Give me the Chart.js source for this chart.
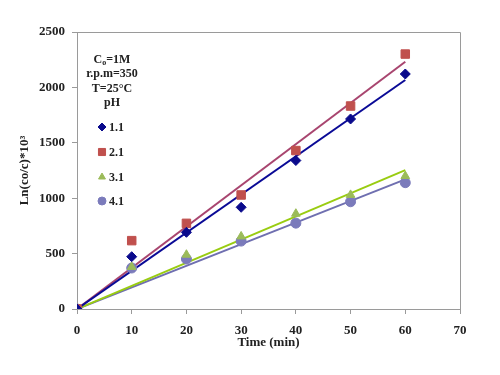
<!DOCTYPE html>
<html lang="en">
<head>
  <meta charset="UTF-8" />
  <title>Ln(co/c) vs time</title>
  <script src="https://cdn.jsdelivr.net/npm/chart.js"></script>
  <style>
    body { margin: 0; background: #ffffff; }
    .wrap { width: 500px; height: 375px; }
  </style>
</head>
<body>
  <div class="wrap"><canvas id="kinChart" width="500" height="375"></canvas></div>

  <script>
    // --- data ---
    const times = [0, 10, 20, 30, 40, 50, 60];
    const ph11 = [0, 472, 692, 918, 1340, 1715, 2121];
    const ph21 = [0, 617, 773, 1029, 1430, 1832, 2301];
    const ph31 = [0, 380, 490, 655, 860, 1030, 1200];
    const ph41 = [0, 370, 451, 613, 775, 968, 1140];

    // trend lines (through origin), start and end values
    const fitTimes = [0, 60];
    const fit11 = [0, 2067];
    const fit21 = [0, 2232];
    const fit31 = [0, 1254];
    const fit41 = [0, 1170];

    const phLabels = ["1.1", "2.1", "3.1", "4.1"];
    const infoLines = ["r.p.m=350", "T=25\u00b0C", "pH"];

    const serif = "'Liberation Serif', 'Times New Roman', serif";

    function pts(xs, ys) {
      return xs.map((x, i) => ({ x: x, y: ys[i] }));
    }

    const series = [
      { label: phLabels[0], data: ph11, fit: fit11, color: "#0a0a8c", line: "#0a0a96", style: "rectRot", r: 5 },
      { label: phLabels[1], data: ph21, fit: fit21, color: "#c0504d", line: "#a8456f", style: "rect", r: 6 },
      { label: phLabels[2], data: ph31, fit: fit31, color: "#9bbb59", line: "#99cc11", style: "triangle", r: 5 },
      { label: phLabels[3], data: ph41, fit: fit41, color: "#7b7bbb", line: "#6f6fb0", style: "circle", r: 5 }
    ];

    const datasets = [];
    series.forEach(s => {
      datasets.push({
        label: s.label + " fit",
        data: pts(fitTimes, s.fit),
        showLine: true,
        borderColor: s.line,
        borderWidth: 2,
        pointRadius: 0,
        fill: false,
        order: 2
      });
    });
    series.forEach(s => {
      datasets.push({
        label: s.label,
        data: pts(times, s.data),
        showLine: false,
        backgroundColor: s.color,
        borderColor: s.color,
        pointStyle: s.style,
        pointRadius: s.r,
        pointHoverRadius: s.r,
        order: 1
      });
    });

    // box + inside legend text
    const boxAndLegend = {
      id: "boxAndLegend",
      afterDraw(chart) {
        const ctx = chart.ctx;
        const a = chart.chartArea;
        ctx.save();
        ctx.strokeStyle = "#9a9a9a";
        ctx.lineWidth = 1;
        ctx.beginPath();
        ctx.moveTo(a.left, a.top + 0.5);
        ctx.lineTo(a.right + 0.5, a.top + 0.5);
        ctx.lineTo(a.right + 0.5, a.bottom);
        ctx.stroke();

        ctx.fillStyle = "#222";
        ctx.textBaseline = "middle";
        ctx.font = "bold 12px " + serif;
        const cx = 112;

        // C_o=1M with subscript o
        const cW = ctx.measureText("C").width;
        ctx.font = "bold 8px " + serif;
        const oW = ctx.measureText("o").width;
        ctx.font = "bold 12px " + serif;
        const restW = ctx.measureText("=1M").width;
        let x0 = cx - (cW + oW + restW) / 2;
        ctx.textAlign = "left";
        ctx.fillText("C", x0, 60);
        ctx.font = "bold 8px " + serif;
        ctx.fillText("o", x0 + cW, 63);
        ctx.font = "bold 12px " + serif;
        ctx.fillText("=1M", x0 + cW + oW, 60);

        ctx.textAlign = "center";
        infoLines.forEach((t, i) => {
          ctx.fillText(t, cx, 74 + i * 14.5);
        });

        const legY = [127, 152, 177, 201];
        ctx.textAlign = "left";
        series.forEach((s, i) => {
          ctx.fillStyle = s.color;
          ctx.strokeStyle = s.color;
          Chart.helpers.drawPoint(ctx, { pointStyle: s.style, radius: s.r - 1, borderWidth: 1 }, 102, legY[i]);
          ctx.fillStyle = "#222";
          ctx.fillText(s.label, 109, legY[i] + 1);
        });
        ctx.restore();
      }
    };

    new Chart(document.getElementById("kinChart"), {
      type: "scatter",
      data: { datasets: datasets },
      options: {
        responsive: false,
        animation: false,
        layout: { padding: { top: 32, right: 40, left: 0, bottom: 0 } },
        plugins: {
          legend: { display: false },
          tooltip: { enabled: false },
          title: { display: false }
        },
        scales: {
          x: {
            type: "linear",
            min: 0,
            max: 70,
            ticks: {
              stepSize: 10, color: "#222", padding: 9,
              font: { family: serif, size: 13, weight: "bold" },
              callback: v => String(v)
            },
            grid: { display: true, drawOnChartArea: false, tickLength: 5, color: "#9a9a9a" },
            border: { color: "#9a9a9a" },
            title: {
              display: true,
              text: "Time (min)",
              color: "#222",
              font: { family: serif, size: 13, weight: "bold" },
              padding: { top: 0, bottom: 25 }
            },
            afterFit(scale) { scale.height = 66; }
          },
          y: {
            min: 0,
            max: 2500,
            ticks: {
              stepSize: 500, color: "#222", padding: 7,
              font: { family: serif, size: 13, weight: "bold" },
              callback: v => String(v)
            },
            grid: { display: true, drawOnChartArea: false, tickLength: 5, color: "#9a9a9a" },
            border: { color: "#9a9a9a" },
            title: {
              display: true,
              text: "Ln(co/c)*10\u00b3",
              color: "#222",
              font: { family: serif, size: 13, weight: "bold" },
              padding: { top: 17, bottom: 0 }
            },
            afterFit(scale) { scale.width = 77; }
          }
        }
      },
      plugins: [boxAndLegend]
    });
  </script>
</body>
</html>
